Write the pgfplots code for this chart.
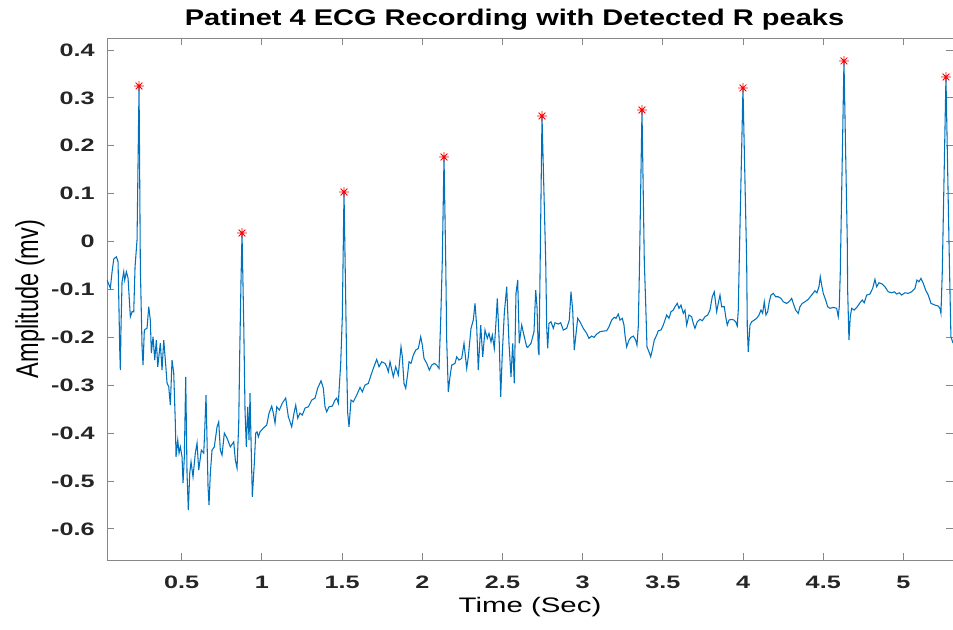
\documentclass[border=0pt]{standalone}
\usepackage{pgfplots}
\pgfplotsset{compat=1.18}
\usepackage{fontspec}
\setmainfont{Liberation Sans}
\definecolor{mblue}{RGB}{0,114,189}
\definecolor{axgray}{RGB}{135,135,135}
\definecolor{txt}{RGB}{38,38,38}
\pgfdeclareplotmark{mstar}{%
  \pgfpathmoveto{\pgfqpoint{-\pgfplotmarksize}{0pt}}\pgfpathlineto{\pgfqpoint{\pgfplotmarksize}{0pt}}%
  \pgfpathmoveto{\pgfqpoint{0pt}{-\pgfplotmarksize}}\pgfpathlineto{\pgfqpoint{0pt}{\pgfplotmarksize}}%
  \pgfpathmoveto{\pgfqpoint{-0.707\pgfplotmarksize}{-0.707\pgfplotmarksize}}\pgfpathlineto{\pgfqpoint{0.707\pgfplotmarksize}{0.707\pgfplotmarksize}}%
  \pgfpathmoveto{\pgfqpoint{-0.707\pgfplotmarksize}{0.707\pgfplotmarksize}}\pgfpathlineto{\pgfqpoint{0.707\pgfplotmarksize}{-0.707\pgfplotmarksize}}%
  \pgfusepathqstroke}
\begin{document}
\begin{tikzpicture}
\begin{axis}[
  scale only axis, width=634.5pt, height=391.5pt,
  xmin=0.034, xmax=5.309, ymin=-0.665, ymax=0.425,
  axis line style={axgray, line width=0.7pt},
  tick style={axgray, line width=0.7pt},
  tick align=inside, major tick length=5pt,
  xtick={0.5,1,1.5,2,2.5,3,3.5,4,4.5,5},
  xticklabels={0.5,1,1.5,2,2.5,3,3.5,4,4.5,5},
  ytick={-0.6,-0.5,-0.4,-0.3,-0.2,-0.1,0,0.1,0.2,0.3,0.4},
  yticklabels={-0.6,-0.5,-0.4,-0.3,-0.2,-0.1,0,0.1,0.2,0.3,0.4},
  ticklabel style={font=\bfseries\fontsize{13.5}{14}\selectfont, text=txt, inner sep=0pt},
  xticklabel style={anchor=base, yshift=-21pt, xscale=1.4},
  yticklabel style={anchor=east, xshift=-9pt, xscale=1.4},
  every axis x label/.style={at={(axis description cs:0.5,0)}, anchor=center, yshift=-35.25pt},
  every axis y label/.style={at={(axis description cs:-0.091,0.5)}, anchor=center, rotate=90},
  xlabel={\fontsize{15.75}{16}\selectfont\scalebox{1.4}[1]{Time (Sec)}},
  ylabel={\fontsize{15.75}{16}\selectfont\scalebox{1.12}[1.5]{Amplitude (mv)}},
  title={\bfseries\fontsize{17}{18}\selectfont\scalebox{1.28}[1]{Patinet 4 ECG Recording with Detected R peaks}},
  every axis title/.style={at={(axis description cs:0.5,1)}, anchor=base, yshift=9pt, xshift=-11.6pt},
]
\addplot[mblue, line width=0.8pt] coordinates {
(0.0343,-0.0804) (0.0549,-0.0971) (0.0655,-0.0637) (0.0761,-0.0366) (0.0923,-0.0318) (0.1029,-0.0422)
(0.1072,-0.1153) (0.1135,-0.2267) (0.1172,-0.2684) (0.1216,-0.1744) (0.1278,-0.0840) (0.1384,-0.0631)
(0.1446,-0.0804) (0.1546,-0.0631) (0.1652,-0.0762) (0.1796,-0.1571) (0.1901,-0.1466) (0.2007,-0.1466)
(0.2089,-0.0526) (0.2213,0.0031) (0.2338,0.3248) (0.2419,-0.0526) (0.2525,-0.2198) (0.2587,-0.2580)
(0.2668,-0.1849) (0.2837,-0.1807) (0.2943,-0.1362) (0.3042,-0.1640) (0.3105,-0.2329) (0.3211,-0.1989)
(0.3317,-0.2475) (0.3416,-0.2058) (0.3504,-0.2615) (0.3666,-0.2120) (0.3772,-0.2684) (0.3878,-0.2058)
(0.3978,-0.2475) (0.4084,-0.2956) (0.4190,-0.3033) (0.4289,-0.3416) (0.4395,-0.2475) (0.4501,-0.2747)
(0.4601,-0.3792) (0.4645,-0.4496) (0.4751,-0.4147) (0.4832,-0.4418) (0.4913,-0.4287) (0.5019,-0.4496)
(0.5081,-0.5045) (0.5162,-0.4496) (0.5249,-0.2824) (0.5330,-0.4836) (0.5411,-0.5609) (0.5499,-0.4836)
(0.5580,-0.4600) (0.5704,-0.4913) (0.5848,-0.4418) (0.5954,-0.4209) (0.6060,-0.4773) (0.6222,-0.4356)
(0.6372,-0.4418) (0.6434,-0.3938) (0.6515,-0.3207) (0.6577,-0.4147) (0.6640,-0.5122) (0.6702,-0.5504)
(0.6783,-0.4836) (0.6889,-0.4356) (0.7032,-0.4287) (0.7201,-0.3869) (0.7307,-0.3764) (0.7406,-0.4356)
(0.7512,-0.4460) (0.7656,-0.4000) (0.7824,-0.4105) (0.8030,-0.4287) (0.8242,-0.4182) (0.8342,-0.4564)
(0.8448,-0.4732) (0.8554,-0.3792) (0.8616,-0.2329) (0.8697,-0.0804) (0.8759,0.0178) (0.8865,-0.1703)
(0.8946,-0.3520) (0.9027,-0.4287) (0.9115,-0.3451) (0.9196,-0.4147) (0.9258,-0.3165) (0.9320,-0.4147)
(0.9401,-0.5331) (0.9526,-0.4627) (0.9613,-0.4000) (0.9694,-0.3973) (0.9776,-0.4078) (0.9882,-0.3973)
(1.0087,-0.3896) (1.0299,-0.3833) (1.0443,-0.3583) (1.0611,-0.3436) (1.0711,-0.3583) (1.0817,-0.3792)
(1.0923,-0.3451) (1.1085,-0.3520) (1.1272,-0.3374) (1.1484,-0.3269) (1.1646,-0.3660) (1.1858,-0.3869)
(1.2001,-0.3583) (1.2107,-0.3416) (1.2232,-0.3687) (1.2375,-0.3583) (1.2519,-0.3624) (1.2687,-0.3478)
(1.2893,-0.3451) (1.3105,-0.3311) (1.3310,-0.3269) (1.3479,-0.3060) (1.3685,-0.2908) (1.3828,-0.3060)
(1.3934,-0.3451) (1.4040,-0.3555) (1.4183,-0.3451) (1.4389,-0.3436) (1.4557,-0.3311) (1.4663,-0.3269)
(1.4763,-0.3374) (1.4913,-0.2538) (1.5012,-0.1571) (1.5118,0.1034) (1.5224,-0.1222) (1.5287,-0.2615)
(1.5349,-0.3583) (1.5430,-0.3869) (1.5555,-0.3311) (1.5698,-0.3347) (1.5910,-0.3207) (1.6116,-0.3046)
(1.6259,-0.3138) (1.6428,-0.2998) (1.6633,-0.2962) (1.6802,-0.2789) (1.6945,-0.2649) (1.7157,-0.2461)
(1.7300,-0.2615) (1.7469,-0.2511) (1.7675,-0.2544) (1.7781,-0.2615) (1.7880,-0.2720) (1.7986,-0.2511)
(1.8192,-0.2824) (1.8342,-0.2615) (1.8504,-0.2789) (1.8672,-0.2198) (1.8753,-0.2407) (1.8859,-0.2962)
(1.8965,-0.3067) (1.9090,-0.2753) (1.9171,-0.2511) (1.9296,-0.2544) (1.9439,-0.2371) (1.9589,-0.2267)
(1.9751,-0.2231) (1.9900,-0.1989) (2.0000,-0.2162) (2.0106,-0.2440) (2.0274,-0.2544) (2.0436,-0.2684)
(2.0586,-0.2580) (2.0748,-0.2544) (2.0898,-0.2580) (2.1041,-0.2649) (2.1147,-0.1640) (2.1247,-0.0386)
(2.1353,0.1765) (2.1459,-0.0386) (2.1521,-0.2058) (2.1621,-0.3138) (2.1727,-0.2824) (2.1833,-0.2580)
(2.2039,-0.2544) (2.2145,-0.2407) (2.2288,-0.2475) (2.2456,-0.2440) (2.2600,-0.2127) (2.2768,-0.2649)
(2.2868,-0.2407) (2.3036,-0.1813) (2.3180,-0.1640) (2.3286,-0.1291) (2.3392,-0.1780) (2.3491,-0.2684)
(2.3641,-0.1744) (2.3766,-0.2407) (2.3909,-0.1849) (2.4052,-0.2022) (2.4158,-0.1918) (2.4283,-0.2093)
(2.4364,-0.1953) (2.4489,-0.2231) (2.4595,-0.1675) (2.4676,-0.1187) (2.4800,-0.2127) (2.4888,-0.3242)
(2.4988,-0.2335) (2.5112,-0.1500) (2.5262,-0.0944) (2.5405,-0.2127) (2.5530,-0.2824) (2.5636,-0.2127)
(2.5736,-0.2962) (2.5842,-0.1082) (2.5948,-0.0804) (2.6047,-0.2127) (2.6197,-0.1744) (2.6359,-0.1989)
(2.6509,-0.2198) (2.6571,-0.2210) (2.6777,-0.2127) (2.6964,-0.1884) (2.7070,-0.1013) (2.7151,-0.1362)
(2.7232,-0.2267) (2.7276,-0.2371) (2.7338,-0.0735) (2.7463,0.2622) (2.7693,-0.0386) (2.7756,-0.1780)
(2.7818,-0.2231) (2.7899,-0.1709) (2.8024,-0.1675) (2.8167,-0.1813) (2.8273,-0.1696) (2.8479,-0.1723)
(2.8628,-0.1696) (2.8791,-0.1849) (2.9002,-0.1813) (2.9165,-0.1640) (2.9271,-0.1049) (2.9377,-0.1431)
(2.9476,-0.2267) (2.9564,-0.1989) (2.9688,-0.1604) (2.9832,-0.1675) (3.0037,-0.1813) (3.0249,-0.1918)
(3.0393,-0.2022) (3.0561,-0.1974) (3.0705,-0.2001) (3.0873,-0.1932) (3.1079,-0.1884) (3.1284,-0.1870)
(3.1496,-0.1863) (3.1640,-0.1780) (3.1808,-0.1640) (3.1970,-0.1583) (3.2076,-0.1604) (3.2219,-0.1515)
(3.2325,-0.1640) (3.2469,-0.1604) (3.2575,-0.1744) (3.2637,-0.1953) (3.2743,-0.2198) (3.2886,-0.2058)
(3.3011,-0.2001) (3.3155,-0.1974) (3.3304,-0.2058) (3.3385,-0.2162) (3.3466,-0.1780) (3.3529,-0.0735)
(3.3697,0.2747) (3.3840,-0.0386) (3.3928,-0.1291) (3.4009,-0.2198) (3.4133,-0.2302) (3.4239,-0.2407)
(3.4339,-0.2267) (3.4464,-0.2058) (3.4613,-0.1953) (3.4713,-0.1863) (3.4881,-0.1849) (3.5025,-0.1744)
(3.5131,-0.1640) (3.5237,-0.1535) (3.5380,-0.1604) (3.5505,-0.1466) (3.5648,-0.1431) (3.5754,-0.1362)
(3.5898,-0.1291) (3.6004,-0.1395) (3.6129,-0.1327) (3.6272,-0.1500) (3.6378,-0.1431) (3.6484,-0.1744)
(3.6627,-0.1535) (3.6796,-0.1571) (3.6895,-0.1709) (3.7001,-0.1813) (3.7145,-0.1675) (3.7313,-0.1625)
(3.7456,-0.1654) (3.7625,-0.1571) (3.7793,-0.1535) (3.7937,-0.1431) (3.8080,-0.1153) (3.8204,-0.1049)
(3.8292,-0.1291) (3.8354,-0.1466) (3.8454,-0.1291) (3.8560,-0.1118) (3.8666,-0.1362) (3.8828,-0.1362)
(3.8934,-0.1604) (3.9015,-0.1744) (3.9121,-0.1640) (3.9289,-0.1625) (3.9433,-0.1640) (3.9539,-0.1675)
(3.9638,-0.1765) (3.9701,-0.1431) (3.9763,-0.0386) (3.9994,0.3207) (4.0224,-0.0386) (4.0262,-0.1780)
(4.0324,-0.2302) (4.0430,-0.1744) (4.0536,-0.1675) (4.0698,-0.1640) (4.0848,-0.1604) (4.0991,-0.1535)
(4.1116,-0.1431) (4.1222,-0.1500) (4.1322,-0.1258) (4.1428,-0.1535) (4.1534,-0.1466) (4.1633,-0.1258)
(4.1739,-0.1118) (4.1883,-0.1082) (4.2032,-0.1153) (4.2195,-0.1153) (4.2363,-0.1187) (4.2506,-0.1258)
(4.2718,-0.1291) (4.2862,-0.1258) (4.3030,-0.1187) (4.3130,-0.1291) (4.3279,-0.1431) (4.3441,-0.1500)
(4.3547,-0.1362) (4.3691,-0.1291) (4.3859,-0.1258) (4.4065,-0.1207) (4.4277,-0.1118) (4.4483,-0.1028)
(4.4607,-0.1070) (4.4732,-0.0944) (4.4813,-0.0735) (4.4900,-0.0909) (4.5000,-0.1082) (4.5150,-0.1222)
(4.5274,-0.1362) (4.5418,-0.1395) (4.5623,-0.1375) (4.5835,-0.1395) (4.5935,-0.1571) (4.5998,-0.1362)
(4.6060,-0.0664) (4.6291,0.3771) (4.6496,0.0031) (4.6521,-0.1013) (4.6602,-0.2058) (4.6683,-0.1571)
(4.6770,-0.1395) (4.6933,-0.1431) (4.7120,-0.1362) (4.7288,-0.1278) (4.7431,-0.1222) (4.7556,-0.1278)
(4.7706,-0.1118) (4.7911,-0.1097) (4.8080,-0.0978) (4.8223,-0.0790) (4.8329,-0.0944) (4.8473,-0.0861)
(4.8678,-0.0888) (4.8847,-0.0944) (4.9052,-0.1049) (4.9264,-0.1070) (4.9426,-0.1049) (4.9576,-0.1097)
(4.9738,-0.1070) (4.9888,-0.1118) (5.0094,-0.1070) (5.0299,-0.1082) (5.0511,-0.1049) (5.0717,-0.0978)
(5.0842,-0.0804) (5.0966,-0.0840) (5.1091,-0.0769) (5.1234,-0.0873) (5.1384,-0.1013) (5.1546,-0.1118)
(5.1715,-0.1291) (5.1965,-0.1327) (5.2170,-0.1347) (5.2276,-0.1395) (5.2338,-0.1500) (5.2419,-0.0664)
(5.2650,0.3436) (5.2837,0.0031) (5.2899,-0.1013) (5.2961,-0.1989) (5.3087,-0.2120)
};
\addplot[only marks, red, mark=mstar, mark size=3.6pt, line width=0.6pt] coordinates {
(0.2338,0.3248) (0.8759,0.0178) (1.5118,0.1034) (2.1353,0.1765) (2.7463,0.2622)
(3.3697,0.2747) (3.9994,0.3207) (4.6291,0.3771) (5.2650,0.3436)
};
\coordinate (ll) at (rel axis cs:0,0);
\coordinate (ur) at (rel axis cs:1,1);
\end{axis}
\pgfresetboundingbox
\path[use as bounding box] ([xshift=-80.25pt,yshift=-51.75pt]ll) rectangle ([yshift=28.5pt]ur);
\end{tikzpicture}
\end{document}
